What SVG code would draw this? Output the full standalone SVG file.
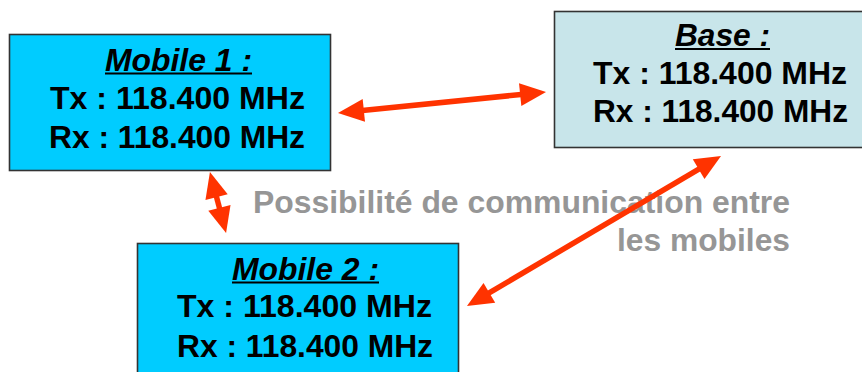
<svg xmlns="http://www.w3.org/2000/svg" width="862" height="372" viewBox="0 0 862 372">
  <style>
    .box { stroke: #333; stroke-width: 1.6; }
    .mobile { fill: #00CCFF; }
    .base { fill: #C8E5EA; }
    .t { font-family: "Liberation Sans", Arial, sans-serif; font-weight: bold; font-size: 31.5px; fill: #000; }
    .title { font-style: italic; }
    .ul { stroke: #000; stroke-width: 2; }
    .note { font-family: "Liberation Sans", Arial, sans-serif; font-weight: bold; font-size: 30.5px; fill: #969696; }
    .link { stroke: #FF3300; stroke-width: 5.5; fill: none; marker-start: url(#head); marker-end: url(#head); }
  </style>
  <defs>
    <marker id="head" markerUnits="userSpaceOnUse" markerWidth="26" markerHeight="23" refX="14" refY="11.5" orient="auto-start-reverse" overflow="visible">
      <path d="M0,0 L26,11.5 L0,23 Z" fill="#FF3300"/>
    </marker>
  </defs>
  <rect width="862" height="372" fill="#fff"/>

  <g id="mobile1">
    <rect class="box mobile" x="9.5" y="34.5" width="321" height="136"/>
    <text class="t title" x="105" y="71" textLength="147" lengthAdjust="spacingAndGlyphs">Mobile 1 :</text>
    <line class="ul" x1="105" y1="73.5" x2="252" y2="73.5"/>
    <text class="t" x="50" y="109" textLength="255" lengthAdjust="spacingAndGlyphs">Tx : 118.400 MHz</text>
    <text class="t" x="49" y="148" textLength="256" lengthAdjust="spacingAndGlyphs">Rx : 118.400 MHz</text>
  </g>

  <g id="base">
    <rect class="box base" x="554.5" y="11.5" width="320" height="136"/>
    <text class="t title" x="675" y="46" textLength="95" lengthAdjust="spacingAndGlyphs">Base :</text>
    <line class="ul" x1="675" y1="49" x2="770" y2="49"/>
    <text class="t" x="593" y="84" textLength="254" lengthAdjust="spacingAndGlyphs">Tx : 118.400 MHz</text>
    <text class="t" x="593" y="122" textLength="255" lengthAdjust="spacingAndGlyphs">Rx : 118.400 MHz</text>
  </g>

  <g id="mobile2">
    <rect class="box mobile" x="137.5" y="243.5" width="321" height="140"/>
    <text class="t title" x="232" y="280" textLength="147" lengthAdjust="spacingAndGlyphs">Mobile 2 :</text>
    <line class="ul" x1="232" y1="282.5" x2="379" y2="282.5"/>
    <text class="t" x="177" y="317" textLength="255" lengthAdjust="spacingAndGlyphs">Tx : 118.400 MHz</text>
    <text class="t" x="177" y="357" textLength="256" lengthAdjust="spacingAndGlyphs">Rx : 118.400 MHz</text>
  </g>

  <g id="note">
    <text class="note" x="253" y="213" textLength="537" lengthAdjust="spacingAndGlyphs">Possibilité de communication entre</text>
    <text class="note" x="617" y="251" textLength="173" lengthAdjust="spacingAndGlyphs">les mobiles</text>
  </g>

  <g id="connectors">
    <line class="link" x1="349.9" y1="111.8" x2="534.1" y2="93.2"/>
    <line class="link" x1="213.0" y1="183.6" x2="223.0" y2="221.4"/>
    <line class="link" x1="710.7" y1="162.1" x2="477.3" y2="299.9"/>
  </g>
</svg>
